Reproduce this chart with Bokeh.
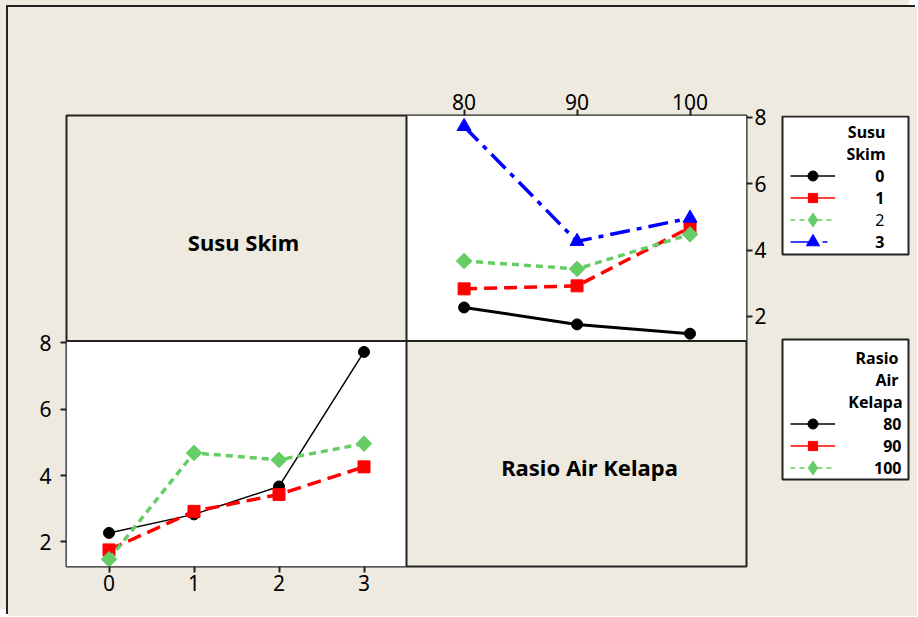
import numpy as np
from bokeh.plotting import figure
from bokeh.layouts import row
from bokeh.models import (Range1d, LinearAxis, FixedTicker, BoxAnnotation, Span,
                          Label, Legend, LegendItem, ColumnDataSource)
from bokeh.embed import file_html
from bokeh.resources import INLINE

# ---------------- data ----------------
rasio_levels = [80, 90, 100]          # Rasio Air Kelapa
susu_levels = [0, 1, 2, 3]            # Susu Skim
# mean response per Susu Skim level, across Rasio Air Kelapa 80 / 90 / 100
susu0 = [2.27, 1.76, 1.48]
susu1 = [2.83, 2.92, 4.68]
susu2 = [3.67, 3.43, 4.47]
susu3 = [7.72, 4.26, 4.96]
top_x_ticks = [80, 90, 100]
bottom_x_ticks = [0, 1, 2, 3]
y_ticks = [2, 4, 6, 8]
susu_labels = ["0", "1", "2", "3"]
rasio_labels = ["80", "90", "100"]

susu_series = [susu0, susu1, susu2, susu3]
# transpose: response per Rasio level across Susu Skim 0..3
rasio_series = [[s[i] for s in susu_series] for i in range(len(rasio_levels))]

# ---------------- styles ----------------
BEIGE = "#EEEAE0"
DARK = "#222222"
FONT = "Noto Sans"
BLACK, RED, GREEN, BLUE = "#000000", "#FF0000", "#66CC66", "#0000FF"

tr_styles = [
    dict(color=BLACK, dash="solid", lw=3, marker="circle", size=11, angle=0.0),
    dict(color=RED, dash="13 7", lw=3.5, marker="square", size=12, angle=0.0),
    dict(color=GREEN, dash="7 5", lw=3.5, marker="square", size=11, angle=np.pi / 4),
    dict(color=BLUE, dash="20 7 5 7", lw=3.5, marker="triangle", size=14, angle=0.0),
]
bl_styles = [
    dict(color=BLACK, dash="solid", lw=1.5, marker="circle", size=11, angle=0.0),
    dict(color=RED, dash="14 7", lw=3.5, marker="square", size=12, angle=0.0),
    dict(color=GREEN, dash="7 5", lw=3.5, marker="square", size=11, angle=np.pi / 4),
]
leg_styles_susu = [
    dict(color=BLACK, dash="solid", marker="circle", gh=25),
    dict(color=RED, dash="solid", marker="square", gh=23),
    dict(color=GREEN, dash="5 4", marker="diamond", gh=35),
    dict(color=BLUE, dash="22 10 5 10", marker="triangle", gh=33),
]
leg_styles_rasio = leg_styles_susu[:3]

# ---------------- geometry ----------------
OX, OY = 8, 7                 # page offset of the layout
PW, H = 770, 609              # main figure size
QW = 139                      # legend strip width
FL, FT, FR, FB = 66 - OX, 115 - OY, 746 - OX, 566 - OY   # frame edges (canvas px)

TR_X = (74.9, 105.0)    # top-right panel (right half of frame)
TR_Y = (1.26, 8.05)     # top half
BL_X = (-0.5, 3.5)      # bottom-left panel (left half)
BL_Y = (1.26, 8.05)     # bottom half

x_main = Range1d(TR_X[0] - (TR_X[1] - TR_X[0]), TR_X[1])
y_main = Range1d(TR_Y[0] - (TR_Y[1] - TR_Y[0]), TR_Y[1])
x_bl = Range1d(BL_X[0], BL_X[1] + (BL_X[1] - BL_X[0]))
y_bl = Range1d(BL_Y[0], BL_Y[1] + (BL_Y[1] - BL_Y[0]))


def sx(page_x):          # main figure, frame-relative screen x
    return page_x - OX - FL


def sy(page_y):          # main figure, frame-relative screen y (upwards)
    return FB - (page_y - OY)


QX0 = OX + PW


def qx(page_x):          # legend strip: its frame spans full width
    return page_x - QX0


def qy(page_y):          # legend strip: its frame shares the main frame's rows
    return FB + OY - page_y


p = figure(width=PW, height=H, x_range=x_main, y_range=y_main,
           x_axis_location="above", y_axis_location="right",
           toolbar_location=None, output_backend="svg",
           min_border_left=FL, min_border_right=PW - FR,
           min_border_top=FT, min_border_bottom=H - FB)
p.extra_x_ranges = {"bl": x_bl}
p.extra_y_ranges = {"bl": y_bl}
p.background_fill_color = BEIGE
p.border_fill_color = BEIGE
p.outline_line_color = DARK
p.outline_line_width = 2
p.grid.visible = False

p.add_layout(LinearAxis(x_range_name="bl"), "below")
p.add_layout(LinearAxis(y_range_name="bl"), "left")

p.xaxis[0].ticker = FixedTicker(ticks=top_x_ticks)
p.yaxis[0].ticker = FixedTicker(ticks=y_ticks)
p.xaxis[1].ticker = FixedTicker(ticks=bottom_x_ticks)
p.yaxis[1].ticker = FixedTicker(ticks=y_ticks)
for ax in p.xaxis + p.yaxis:
    ax.axis_line_color = None
    ax.major_tick_line_color = DARK
    ax.major_tick_line_width = 2
    ax.major_tick_out = 6
    ax.major_tick_in = 0
    ax.minor_tick_line_color = None
    ax.major_label_text_font = FONT
    ax.major_label_text_font_size = "21px"
    ax.major_label_text_color = "black"
p.xaxis[0].major_label_standoff = 0
p.xaxis[1].major_label_standoff = 2
p.yaxis[0].major_label_standoff = 9
p.yaxis[1].major_label_standoff = 2

# white panels
p.add_layout(BoxAnnotation(left=TR_X[0], right=TR_X[1], bottom=TR_Y[0], top=TR_Y[1],
                           fill_color="white", fill_alpha=1, line_color=None, level="underlay"))
p.add_layout(BoxAnnotation(left=BL_X[0], right=BL_X[1], bottom=BL_Y[0], top=BL_Y[1],
                           x_range_name="bl", y_range_name="bl",
                           fill_color="white", fill_alpha=1, line_color=None, level="underlay"))
# panel dividers
p.add_layout(Span(location=TR_X[0], dimension="height", line_color=DARK, line_width=2))
p.add_layout(Span(location=BL_Y[1], dimension="width", y_range_name="bl",
                  line_color=DARK, line_width=2))

# ---------------- series ----------------
for vals, st in zip(susu_series, tr_styles):
    src = ColumnDataSource(dict(x=rasio_levels, y=vals))
    p.line("x", "y", source=src, line_color=st["color"], line_width=st["lw"],
           line_dash=st["dash"])
    p.scatter("x", "y", source=src, marker=st["marker"], size=st["size"], angle=st["angle"],
              fill_color=st["color"], line_color=st["color"])

for vals, st in zip(rasio_series, bl_styles):
    src = ColumnDataSource(dict(x=susu_levels, y=vals))
    p.line("x", "y", source=src, line_color=st["color"], line_width=st["lw"],
           line_dash=st["dash"], x_range_name="bl", y_range_name="bl")
    p.scatter("x", "y", source=src, marker=st["marker"], size=st["size"], angle=st["angle"],
              fill_color=st["color"], line_color=st["color"],
              x_range_name="bl", y_range_name="bl")

# ---------------- panel titles ----------------
p.add_layout(Label(x=sx(243), y=sy(241), x_units="screen", y_units="screen", text="Susu Skim",
                   text_font=FONT, text_font_style="bold", text_font_size="22px",
                   text_color="black", text_align="center", text_baseline="middle"))
p.add_layout(Label(x=sx(589), y=sy(466), x_units="screen", y_units="screen",
                   text="Rasio Air Kelapa", text_color="black",
                   text_font=FONT, text_font_style="bold", text_font_size="22px",
                   text_align="center", text_baseline="middle"))

# ---------------- legend strip ----------------
q = figure(width=QW, height=H, x_range=Range1d(0, 1), y_range=Range1d(0, 1),
           x_axis_location=None, y_axis_location=None, toolbar_location=None,
           output_backend="svg", min_border_left=0, min_border_right=0,
           min_border_top=FT, min_border_bottom=H - FB)
q.outline_line_color = None
q.background_fill_color = BEIGE
q.border_fill_color = BEIGE
q.grid.visible = False


def legend_box(top, bottom):
    q.add_layout(BoxAnnotation(left=qx(782), right=qx(908), top=qy(top), bottom=qy(bottom),
                               left_units="screen", right_units="screen",
                               top_units="screen", bottom_units="screen",
                               fill_color="white", fill_alpha=1,
                               line_color=DARK, line_alpha=1, line_width=2,
                               level="underlay"))


def legend_row(st, cy):
    # proxy renderers (one off-screen NaN point) only carry the legend styling
    r1 = q.line("x", "y", source=ColumnDataSource(dict(x=[np.nan], y=[np.nan])),
                line_color=st["color"], line_width=1.5, line_dash=st["dash"])
    r2 = q.scatter("x", "y", source=ColumnDataSource(dict(x=[np.nan], y=[np.nan])),
                   marker=st["marker"], fill_color=st["color"], line_color=st["color"])
    gh = st["gh"]
    leg = Legend(items=[LegendItem(label=" ", renderers=[r1, r2])],
                 location=(qx(790), qy(cy + gh / 2)),
                 glyph_width=45, glyph_height=gh, padding=0, margin=0, spacing=0,
                 label_standoff=0, label_width=0, label_height=0,
                 label_text_font_size="1px", background_fill_alpha=0,
                 border_line_color=None)
    q.add_layout(leg)


def text(t, x, y, bold=True):
    q.add_layout(Label(x=qx(x), y=qy(y), x_units="screen", y_units="screen", text=t,
                       text_font=FONT, text_font_style="bold" if bold else "normal",
                       text_font_size="16px", text_color="black",
                       text_align="right", text_baseline="middle"))


legend_box(116, 254)
text("Susu", 885, 131)
text("Skim", 885, 153)
for lab, st, cy in zip(susu_labels, leg_styles_susu, [175, 197, 219, 241.5]):
    legend_row(st, cy)
    text(lab, 884, cy, bold=(lab != "2"))

legend_box(339, 479)
text("Rasio", 898, 357)
text("Air", 898, 379)
text("Kelapa", 902, 401.5)
for lab, st, cy in zip(rasio_labels, leg_styles_rasio, [423, 445, 467]):
    legend_row(st, cy)
    text(lab, 901, cy)

root = row(p, q, spacing=0)
root.styles = {"margin-left": f"{OX}px", "margin-top": f"{OY}px",
               "background-color": BEIGE,
               "box-shadow": f"-2px -2px 0 0 {DARK}, -{OX}px -{OY}px 0 0 {BEIGE}"}

open("out.html", "w").write(file_html(root, INLINE))
